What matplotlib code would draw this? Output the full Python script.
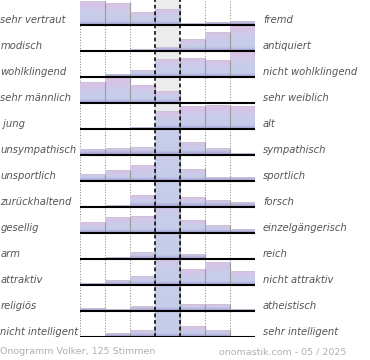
import numpy as np
import matplotlib
matplotlib.use("Agg")
import matplotlib.pyplot as plt
from matplotlib.patches import Rectangle
from matplotlib.transforms import blended_transform_factory

# ---- data (share of votes per scale step, %) ----
left_labels = ["sehr vertraut", "modisch", "wohlklingend", "sehr männlich", " jung",
               "unsympathisch", "unsportlich", "zurückhaltend", "gesellig", "arm",
               "attraktiv", "religiös", "nicht intelligent"]
right_labels = ["fremd", "antiquiert", "nicht wohlklingend", "sehr weiblich", "alt",
                "sympathisch", "sportlich", "forsch", "einzelgängerisch", "reich",
                "nicht attraktiv", "atheistisch", "sehr intelligent"]
row_sehr_vertraut = [29, 26, 16, 19, 2, 4, 5]
row_modisch = [0, 0, 2, 5, 14, 23, 31]
row_wohlklingend = [0, 4, 9, 22, 23, 20, 31]
row_maennlich = [25, 31, 22, 14, 0, 0, 0]
row_jung = [0, 0, 3, 21, 27, 29, 28]
row_unsympathisch = [7, 8, 10, 55, 16, 8, 3]
row_unsportlich = [9, 13, 19, 50, 15, 5, 5]
row_zurueckhaltend = [1, 3, 14, 60, 12, 9, 6]
row_gesellig = [13, 19, 21, 45, 16, 10, 5]
row_arm = [0, 3, 8, 70, 6, 1, 1]
row_attraktiv = [3, 6, 11, 40, 19, 28, 17]
row_religioes = [4, 3, 6, 65, 8, 8, 2]
row_intelligent = [0, 5, 8, 60, 13, 9, 0]
rows = [row_sehr_vertraut, row_modisch, row_wohlklingend, row_maennlich, row_jung,
        row_unsympathisch, row_unsportlich, row_zurueckhaltend, row_gesellig, row_arm,
        row_attraktiv, row_religioes, row_intelligent]
footer_left = "Onogramm Volker, 125 Stimmen"
footer_right = "onomastik.com - 05 / 2025"

# ---- layout ----
W, H = 370, 360
ROW = 31.2          # data units per row
PX = ROW / 26.0     # data units per pixel
N = len(rows)

fig = plt.figure(figsize=(W / 100, H / 100), dpi=100)
ax = fig.add_axes([80 / W, 23 / H, 175 / W, 338 / H])
ax.set_axis_off()

# gradient (top -> bottom)
t = np.linspace(0, 1, 256)
c_top = np.array([222, 193, 230]) / 255
c_mid = np.array([200, 204, 234]) / 255
c_bot = np.array([196, 205, 234]) / 255
grad = np.empty((256, 1, 3))
for k, f in enumerate(t):
    if f < 0.5:
        g = c_top + (c_mid - c_top) * (f / 0.5)
    else:
        g = c_mid + (c_bot - c_mid) * ((f - 0.5) / 0.5)
    grad[k, 0, :] = g
band = np.zeros((64, 1, 4))
band[:, 0, 0:3] = np.array([150, 138, 200]) / 255
band[:, 0, 3] = np.linspace(0, 0.75, 64)

ax.axvspan(3, 4, color="#ececec", zorder=0, lw=0)
ax.vlines([0, 1, 2, 5, 6, 7], 0, N * ROW, colors="#808080", lw=0.7,
          linestyles=(0, (1, 1.8)), zorder=1)

for i, row in enumerate(rows):
    base = (N - 1 - i) * ROW
    for j, v in enumerate(row):
        if v <= 0:
            continue
        vis = min(v, ROW)
        clip = Rectangle((j, base), 1, vis, transform=ax.transData)
        im = ax.imshow(grad, extent=(j, j + 1, base, base + v), origin="upper",
                       aspect="auto", interpolation="bilinear", zorder=2)
        im.set_clip_path(clip)
        bh = min(4 * PX, vis)
        im2 = ax.imshow(band, extent=(j, j + 1, base, base + bh), origin="upper",
                        aspect="auto", interpolation="bilinear", zorder=2.5)
        im2.set_clip_path(Rectangle((j, base), 1, vis, transform=ax.transData))
        ax.plot([j + 1, j + 1], [base, base + vis], color="#9a9a9a", lw=0.8, zorder=3)
        if v < ROW:
            ax.plot([j, j + 1], [base + vis, base + vis], color="#c4c4d0", lw=0.5, zorder=3)
    ax.hlines(base, 0, 7, colors="black", lw=1.5, zorder=5)

ax.vlines([3, 4], 0, N * ROW, colors="black", lw=1.1,
          linestyles=(0, (2.5, 1.8)), zorder=6)

ax.set_xlim(0, 7)
ax.set_ylim(0, N * ROW)

tr = blended_transform_factory(fig.transFigure, ax.transData)
for i in range(N):
    base = (N - 1 - i) * ROW
    y = base + 4.8 * PX
    ax.text(0.5 / W, y, left_labels[i], transform=tr, ha="left", va="center",
            fontsize=7.2, style="italic", color="#555555")
    ax.text(263 / W, y, right_labels[i], transform=tr, ha="left", va="center",
            fontsize=7.2, style="italic", color="#555555")

fig.text(0.5 / W, 1 - 352 / H, footer_left, ha="left", va="center",
         fontsize=6.8, color="#b0b0b0")
fig.text(346 / W, 1 - 352 / H, footer_right, ha="right", va="center",
         fontsize=6.8, color="#b0b0b0")

fig.savefig("out.png", dpi=100)
